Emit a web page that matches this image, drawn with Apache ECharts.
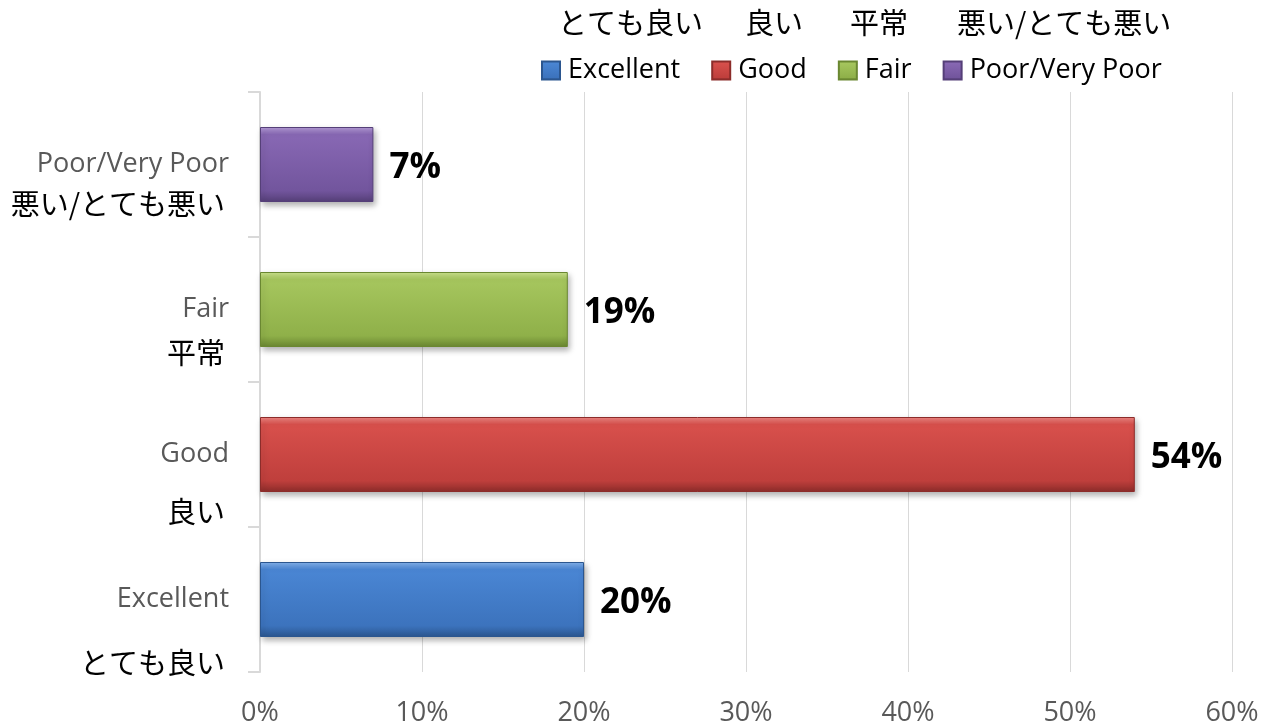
<!DOCTYPE html>
<html>
<head>
<meta charset="utf-8">
<script src="https://cdn.jsdelivr.net/npm/echarts@6/dist/echarts.min.js"></script>
<style>
html, body { margin: 0; padding: 0; background: #fff; }
#chart { width: 1262px; height: 727px; }
</style>
</head>
<body>
<div id="chart"></div>
<script>
var categories = ['Excellent', 'Good', 'Fair', 'Poor/Very Poor'];
var categoriesJa = ['とても良い', '良い', '平常', '悪い/とても悪い'];
var values = [20, 54, 19, 7];
var xTicks = [0, 10, 20, 30, 40, 50, 60];

// bevel-ish gradient stops per bar (top light -> bottom dark)
var palette = [
    ['#86b4ee', '#4a86d4', '#3c73bd', '#2b568f'],
    ['#f08884', '#d8504c', '#bf3f3c', '#8c2c2a'],
    ['#cde48f', '#a6c65e', '#8fb049', '#6a8731'],
    ['#b59cd8', '#8868b4', '#72559d', '#553f78']
];

function grad(c) {
    return new echarts.graphic.LinearGradient(0, 0, 0, 1, [
        { offset: 0, color: c[0] },
        { offset: 0.1, color: c[1] },
        { offset: 0.85, color: c[2] },
        { offset: 1, color: c[3] }
    ]);
}

// vertical distance of japanese label below the english one
var jaDrop = [63, 57, 43, 39];
var enLine = 30;
var rich = {
    en: { fontFamily: 'Open Sans', fontSize: 27, color: '#595959', lineHeight: enLine, align: 'right', verticalAlign: 'middle' }
};
for (var i = 0; i < categories.length; i++) {
    var h2 = 2 * jaDrop[i] - enLine;
    rich['sp' + i] = { fontSize: 10, lineHeight: h2, verticalAlign: 'middle' };
    rich['ja' + i] = {
        fontFamily: 'Noto Sans CJK JP', fontSize: 29, color: '#000', lineHeight: h2,
        align: 'right', verticalAlign: 'middle', padding: [0, 4, 0, 0]
    };
}

var series = [];
for (var k = 0; k < categories.length; k++) {
    var d = [];
    for (var j = 0; j < categories.length; j++) d.push(j === k ? values[k] : '-');
    series.push({
        name: categories[k],
        type: 'bar',
        stack: 'all',
        barWidth: 75,
        data: d,
        itemStyle: {
            color: grad(palette[k]),
            borderColor: palette[k][3],
            borderWidth: 1,
            shadowColor: 'rgba(0,0,0,0.3)',
            shadowBlur: 6,
            shadowOffsetX: 2,
            shadowOffsetY: 3
        },
        label: {
            show: true,
            position: 'right',
            distance: 16,
            offset: [0, 4],
            formatter: '{c}%',
            fontFamily: 'Open Sans',
            fontWeight: 'bold',
            fontSize: 35,
            color: '#000'
        }
    });
}

var headX = [558, 745, 850, 957];
var header = [];
for (var h = 0; h < categoriesJa.length; h++) {
    header.push({
        type: 'text',
        left: headX[h],
        top: 8,
        style: {
            text: categoriesJa[h],
            fontFamily: 'Noto Sans CJK JP',
            fontSize: 29,
            fill: '#000'
        }
    });
}

var myChart = echarts.init(document.getElementById('chart'));
var option = {
    animation: false,
    textStyle: { fontFamily: 'Open Sans' },
    graphic: header,
    legend: {
        left: 536,
        top: 52,
        itemWidth: 18,
        itemHeight: 18,
        itemGap: 31,
        icon: 'rect',
        data: categories,
        textStyle: { fontFamily: 'Open Sans', fontSize: 27, color: '#000', padding: [0, 0, 0, 3] }
    },
    grid: { left: 260, right: 30, top: 92, bottom: 55, containLabel: false },
    xAxis: {
        type: 'value',
        min: xTicks[0],
        max: xTicks[xTicks.length - 1],
        interval: 10,
        axisLine: { show: false },
        axisTick: { show: false },
        splitLine: { lineStyle: { color: '#d9d9d9', width: 1 } },
        axisLabel: {
            formatter: '{value}%',
            fontFamily: 'Open Sans',
            fontSize: 27,
            color: '#595959',
            margin: 28
        }
    },
    yAxis: {
        type: 'category',
        data: categories,
        axisLine: { show: true, lineStyle: { color: '#d9d9d9', width: 2 } },
        axisTick: { show: true, length: 12, lineStyle: { color: '#d9d9d9', width: 2 } },
        axisLabel: {
            margin: 31,
            formatter: function (value, index) {
                return '{sp' + index + '| }\n{en|' + value + '}\n{ja' + index + '|' + categoriesJa[index] + '}';
            },
            rich: rich
        }
    },
    series: series
};
myChart.setOption(option);
</script>
</body>
</html>
